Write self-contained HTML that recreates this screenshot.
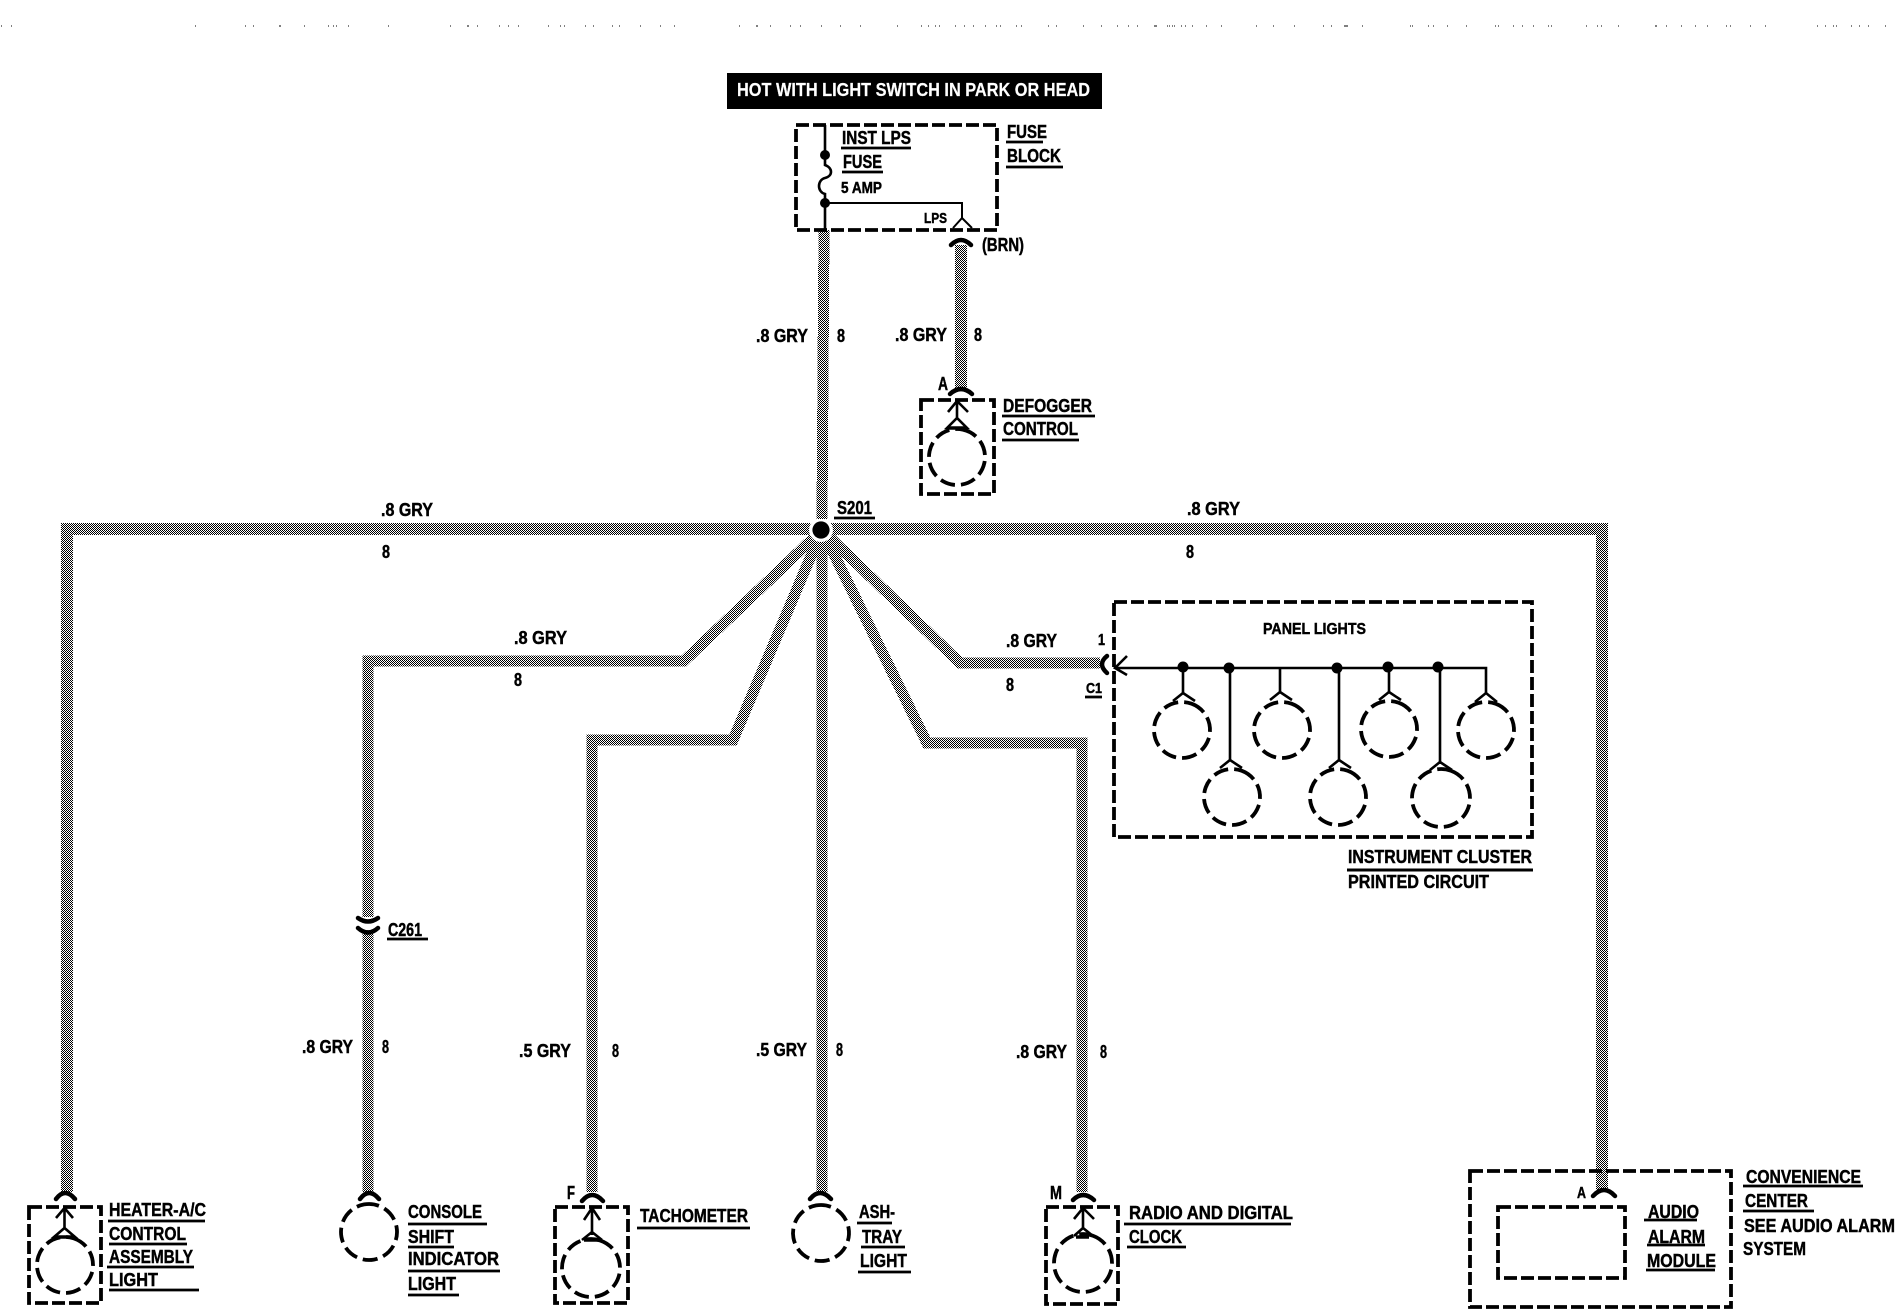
<!DOCTYPE html>
<html><head><meta charset="utf-8"><title>Instrument panel lights wiring diagram</title>
<style>
html,body{margin:0;padding:0;background:#fff}
svg{display:block}
text{font:700 18px "Liberation Sans",sans-serif;fill:#000;stroke:#000;stroke-width:.45}
.s15{font-size:15px}.s16{font-size:16px}
.w{fill:none;stroke:url(#d);stroke-linejoin:miter}
.b{fill:none;stroke:#000;stroke-width:3.8;stroke-dasharray:13 4}
.c{fill:none;stroke:#000;stroke-width:3.8;stroke-dasharray:15 6}
.l{fill:none;stroke:#000;stroke-width:2}
.m{fill:none;stroke:#000;stroke-width:2.6}
.k{fill:none;stroke:#000;stroke-width:4.5;stroke-linecap:round}
.u{fill:none;stroke:#000;stroke-width:2.8}
</style></head><body>
<svg width="1896" height="1312" viewBox="0 0 1896 1312" xmlns="http://www.w3.org/2000/svg">
<defs><pattern id="d" width="2" height="2" patternUnits="userSpaceOnUse"><rect width="2" height="2" fill="#fff"/><rect width="1" height="1" fill="#000"/><rect x="1" y="1" width="1" height="1" fill="#000"/></pattern></defs>
<rect width="1896" height="1312" fill="#fff"/>

<!-- top specks -->
<path stroke="#000" stroke-width="1" fill="none" d="M1 26h1M11 26h1M195 26h1M245 26h1M253 26h1M279 26h2M304 26h1M328 26h1M333 26h1M336 26h1M348 26h1M388 26h1M450 26h1M467 26h2M477 26h1M499 26h1M508 26h1M518 26h1M548 26h1M560 26h1M564 26h1M585 26h1M593 26h1M612 26h1M619 26h1M640 26h1M660 26h1M674 26h1M739 26h1M756 26h2M770 26h1M790 26h1M800 26h1M821 26h1M840 26h1M860 26h1M897 26h1M921 26h1M928 26h1M935 26h1M939 26h1M955 26h1M964 26h1M973 26h1M985 26h1M996 26h1M1000 26h1M1016 26h1M1021 26h1M1048 26h1M1056 26h1M1083 26h1M1101 26h1M1117 26h1M1128 26h1M1137 26h1M1154 26h3M1167 26h1M1169 26h1M1172 26h1M1174 26h1M1181 26h1M1185 26h1M1192 26h1M1206 26h1M1221 26h1M1256 26h1M1273 26h1M1294 26h1M1323 26h1M1331 26h1M1344 26h4M1362 26h1M1410 26h1M1412 26h1M1428 26h1M1433 26h1M1447 26h1M1466 26h1M1495 26h1M1498 26h1M1513 26h1M1522 26h1M1533 26h1M1548 26h1M1551 26h1M1586 26h1M1597 26h1M1601 26h1M1618 26h1M1655 26h2M1666 26h1M1681 26h1M1695 26h1M1707 26h1M1726 26h1M1730 26h1M1750 26h1M1765 26h1M1817 26h1M1825 26h1M1833 26h1M1836 26h1M1851 26h1M1859 26h1M1868 26h1M1885 26h1"/>

<!-- header -->
<rect x="727" y="73" width="375" height="36" fill="#000"/>
<text x="737" y="96" textLength="353" lengthAdjust="spacingAndGlyphs" style="fill:#fff;stroke:#fff;stroke-width:.2">HOT WITH LIGHT SWITCH IN PARK OR HEAD</text>

<!-- wires -->
<g shape-rendering="crispEdges">
<path class="w" stroke-width="11" d="M824 230L822 519"/>
<path class="w" stroke-width="12" d="M961 245V388"/>
<path class="w" stroke-width="12" d="M822 529H67V1192"/>
<path class="w" stroke-width="12" d="M822 529H1602V1190"/>
<path class="w" stroke-width="11" d="M822 530L684 661H368V917M368 934V1192"/>
<path class="w" stroke-width="11" d="M822 530L733 740H592V1192"/>
<path class="w" stroke-width="11" d="M822 530V1192"/>
<path class="w" stroke-width="11" d="M822 530L927 743H1082V1192"/>
<path class="w" stroke-width="11" d="M822 530L960 663H1100"/>
</g>
<circle cx="821" cy="530" r="12" fill="#fff"/>
<rect x="817" y="505" width="10" height="14" fill="url(#d)" shape-rendering="crispEdges"/>
<circle cx="821" cy="530" r="8.6" fill="#000"/>

<!-- fuse block -->
<rect class="b" x="796" y="125" width="201" height="105"/>
<path class="m" d="M825 125V155M825 157V165C833 168 833 176 825 178C817 180 817 192 825 194V230"/>
<path class="l" d="M825 203H962V218L953 228M962 218L972 228"/>
<circle cx="825" cy="155" r="5" fill="#000"/><circle cx="825" cy="203" r="5" fill="#000"/>
<text x="842" y="144" textLength="69" lengthAdjust="spacingAndGlyphs">INST LPS</text><path class="u" d="M841 148H911"/>
<text x="843" y="168" textLength="39" lengthAdjust="spacingAndGlyphs">FUSE</text><path class="u" d="M842 172H883"/>
<text class="s16" x="841" y="193" textLength="41" lengthAdjust="spacingAndGlyphs">5 AMP</text>
<text class="s15" x="924" y="223" textLength="23" lengthAdjust="spacingAndGlyphs">LPS</text>
<text x="1007" y="138" textLength="40" lengthAdjust="spacingAndGlyphs">FUSE</text><path class="u" d="M1006 142H1043"/>
<text x="1007" y="162" textLength="54" lengthAdjust="spacingAndGlyphs">BLOCK</text><path class="u" d="M1006 167H1063"/>
<text x="982" y="251" textLength="42" lengthAdjust="spacingAndGlyphs">(BRN)</text>
<path class="k" d="M951 245Q961 235 971 245"/>

<text x="756" y="342" textLength="52" lengthAdjust="spacingAndGlyphs">.8 GRY</text>
<text x="837" y="342" textLength="8" lengthAdjust="spacingAndGlyphs">8</text>
<text x="895" y="341" textLength="52" lengthAdjust="spacingAndGlyphs">.8 GRY</text>
<text x="974" y="341" textLength="8" lengthAdjust="spacingAndGlyphs">8</text>

<!-- defogger -->
<text x="938" y="390" textLength="10" lengthAdjust="spacingAndGlyphs">A</text>
<path class="k" d="M950 394Q961 384 972 394"/>
<rect class="b" x="921" y="400" width="73" height="94"/>
<path class="m" d="M957 400V418M948 412L957 401L968 412M947 428L957 418L967 428Z"/>
<path d="M947 428H967" stroke="#000" stroke-width="3.5"/>
<circle class="c" cx="957" cy="457" r="28" transform="rotate(-78 957 457)"/>
<text x="1003" y="412" textLength="89" lengthAdjust="spacingAndGlyphs">DEFOGGER</text><path class="u" d="M1002 416H1095"/>
<text x="1003" y="435" textLength="75" lengthAdjust="spacingAndGlyphs">CONTROL</text><path class="u" d="M1002 440H1079"/>

<!-- S201 and horizontal labels -->
<text x="837" y="514" textLength="35" lengthAdjust="spacingAndGlyphs">S201</text><path class="u" d="M834 518H875"/>
<text x="381" y="516" textLength="52" lengthAdjust="spacingAndGlyphs">.8 GRY</text>
<text x="382" y="558" textLength="8" lengthAdjust="spacingAndGlyphs">8</text>
<text x="1187" y="515" textLength="53" lengthAdjust="spacingAndGlyphs">.8 GRY</text>
<text x="1186" y="558" textLength="8" lengthAdjust="spacingAndGlyphs">8</text>
<text x="514" y="644" textLength="53" lengthAdjust="spacingAndGlyphs">.8 GRY</text>
<text x="514" y="686" textLength="8" lengthAdjust="spacingAndGlyphs">8</text>
<text x="1006" y="647" textLength="51" lengthAdjust="spacingAndGlyphs">.8 GRY</text>
<text x="1006" y="691" textLength="8" lengthAdjust="spacingAndGlyphs">8</text>

<!-- panel -->
<rect class="b" x="1114" y="602" width="418" height="235"/>
<text class="s16" x="1263" y="634" textLength="103" lengthAdjust="spacingAndGlyphs">PANEL  LIGHTS</text>
<text class="s16" x="1098" y="645" textLength="7" lengthAdjust="spacingAndGlyphs">1</text>
<path class="k" d="M1107 656Q1097 664 1107 673"/>
<text class="s15" x="1086" y="693" textLength="16" lengthAdjust="spacingAndGlyphs">C1</text><path class="u" d="M1085 697H1102"/>
<path class="m" d="M1116 668H1486V693M1127 656L1115 668L1127 675"/>
<path class="m" d="M1183 668V693M1230 668V760M1280 668V692M1339 668V760M1389 668V692M1440 668V762"/>
<g fill="#000"><circle cx="1183" cy="667" r="5.5"/><circle cx="1229" cy="668" r="5.5"/><circle cx="1337" cy="668" r="5.5"/><circle cx="1388" cy="667" r="5.5"/><circle cx="1438" cy="667" r="5.5"/></g>
<path class="m" d="M1173 701L1183 693L1195 701M1220 768L1230 760L1242 768M1270 700L1280 692L1292 700M1329 768L1339 760L1351 768M1379 700L1389 692L1401 700M1430 770L1440 762L1452 770M1475 702L1486 693L1497 702"/>
<circle class="c" cx="1182" cy="730" r="28" transform="rotate(-70 1182 730)"/>
<circle class="c" cx="1232" cy="797" r="28" transform="rotate(-70 1232 797)"/>
<circle class="c" cx="1282" cy="730" r="28" transform="rotate(-70 1282 730)"/>
<circle class="c" cx="1338" cy="797" r="28" transform="rotate(-70 1338 797)"/>
<circle class="c" cx="1389" cy="729" r="28" transform="rotate(-70 1389 729)"/>
<circle class="c" cx="1441" cy="798" r="29" transform="rotate(-70 1441 798)"/>
<circle class="c" cx="1486" cy="730" r="28" transform="rotate(-70 1486 730)"/>
<text x="1348" y="863" textLength="184" lengthAdjust="spacingAndGlyphs">INSTRUMENT CLUSTER</text>
<path d="M1347 870H1533" stroke="#000" stroke-width="3"/>
<text x="1348" y="888" textLength="141" lengthAdjust="spacingAndGlyphs">PRINTED CIRCUIT</text>

<!-- C261 -->
<path class="k" d="M358 918Q368 925 378 918M358 928Q368 937 378 928"/>
<text x="388" y="936" textLength="34" lengthAdjust="spacingAndGlyphs">C261</text><path class="u" d="M387 939H428"/>

<!-- vertical labels -->
<text x="302" y="1053" textLength="51" lengthAdjust="spacingAndGlyphs">.8 GRY</text>
<text x="382" y="1053" textLength="7" lengthAdjust="spacingAndGlyphs">8</text>
<text x="519" y="1057" textLength="52" lengthAdjust="spacingAndGlyphs">.5 GRY</text>
<text x="612" y="1057" textLength="7" lengthAdjust="spacingAndGlyphs">8</text>
<text x="756" y="1056" textLength="51" lengthAdjust="spacingAndGlyphs">.5 GRY</text>
<text x="836" y="1056" textLength="7" lengthAdjust="spacingAndGlyphs">8</text>
<text x="1016" y="1058" textLength="51" lengthAdjust="spacingAndGlyphs">.8 GRY</text>
<text x="1100" y="1058" textLength="7" lengthAdjust="spacingAndGlyphs">8</text>

<!-- heater -->
<path class="k" d="M56 1199Q65 1187 75 1199"/>
<rect class="b" x="29" y="1207" width="72" height="96"/>
<path class="m" d="M64.5 1207V1228M56 1218L64.5 1208L73 1218M54 1237L64.5 1228L75 1237Z"/>
<path d="M54 1237H75" stroke="#000" stroke-width="3.5"/>
<circle class="c" cx="65" cy="1265" r="28" transform="rotate(-72 65 1265)"/>
<text x="109" y="1216" textLength="97" lengthAdjust="spacingAndGlyphs">HEATER-A/C</text><path class="u" d="M108 1221H205"/>
<text x="109" y="1240" textLength="77" lengthAdjust="spacingAndGlyphs">CONTROL</text><path class="u" d="M109 1244H187"/>
<text x="109" y="1263" textLength="84" lengthAdjust="spacingAndGlyphs">ASSEMBLY</text><path class="u" d="M107 1267H194"/>
<text x="109" y="1286" textLength="49" lengthAdjust="spacingAndGlyphs">LIGHT</text><path class="u" d="M109 1290H199"/>

<!-- console -->
<path class="k" d="M360 1199Q369 1187 379 1199"/>
<circle class="c" cx="369" cy="1232" r="28" transform="rotate(-100 369 1232)"/>
<text x="408" y="1218" textLength="74" lengthAdjust="spacingAndGlyphs">CONSOLE</text><path class="u" d="M408 1224H487"/>
<text x="408" y="1243" textLength="46" lengthAdjust="spacingAndGlyphs">SHIFT</text><path class="u" d="M408 1247H454"/>
<text x="408" y="1265" textLength="91" lengthAdjust="spacingAndGlyphs">INDICATOR</text><path class="u" d="M408 1271H500"/>
<text x="408" y="1290" textLength="48" lengthAdjust="spacingAndGlyphs">LIGHT</text><path class="u" d="M408 1295H459"/>

<!-- tach -->
<text x="567" y="1199" textLength="8" lengthAdjust="spacingAndGlyphs">F</text>
<path class="k" d="M582 1201Q592 1189 603 1201"/>
<rect class="b" x="555" y="1207" width="73" height="96"/>
<path class="m" d="M592 1207V1235M584 1220L592 1208L600 1220M582 1240L592 1232L602 1240"/>
<path d="M584 1240H600" stroke="#000" stroke-width="3.5"/>
<circle class="c" cx="591" cy="1268" r="29" transform="rotate(-72 591 1268)"/>
<text x="640" y="1222" textLength="108" lengthAdjust="spacingAndGlyphs">TACHOMETER</text><path class="u" d="M637 1228H750"/>

<!-- ashtray -->
<path class="k" d="M810 1199Q820 1187 831 1199"/>
<circle class="c" cx="821" cy="1233" r="28" transform="rotate(-100 821 1233)"/>
<text x="859" y="1218" textLength="36" lengthAdjust="spacingAndGlyphs">ASH-</text><path class="u" d="M857 1223H892"/>
<text x="862" y="1243" textLength="40" lengthAdjust="spacingAndGlyphs">TRAY</text><path class="u" d="M861 1247H905"/>
<text x="860" y="1267" textLength="47" lengthAdjust="spacingAndGlyphs">LIGHT</text><path class="u" d="M858 1272H911"/>

<!-- radio -->
<text x="1050" y="1199" textLength="12" lengthAdjust="spacingAndGlyphs">M</text>
<path class="k" d="M1073 1200Q1083 1190 1094 1200"/>
<rect class="b" x="1046" y="1207" width="72" height="97"/>
<path class="m" d="M1083 1207V1228M1074 1219L1083 1208L1094 1219M1074 1236L1083 1228L1093 1236"/>
<path d="M1076 1237H1089" stroke="#000" stroke-width="3.5"/>
<circle class="c" cx="1083" cy="1263" r="29" transform="rotate(-70 1083 1263)"/>
<text x="1129" y="1219" textLength="164" lengthAdjust="spacingAndGlyphs">RADIO AND DIGITAL</text><path class="u" d="M1124 1224H1291"/>
<text x="1129" y="1243" textLength="53" lengthAdjust="spacingAndGlyphs">CLOCK</text><path class="u" d="M1127 1247H1186"/>

<!-- convenience center -->
<rect class="b" x="1470" y="1171" width="261" height="136"/>
<path class="k" d="M1593 1196Q1604 1184 1615 1196"/>
<text x="1577" y="1198" textLength="9" lengthAdjust="spacingAndGlyphs" class="s16">A</text>
<rect class="b" x="1498" y="1207" width="127" height="71"/>
<text x="1648" y="1218" textLength="51" lengthAdjust="spacingAndGlyphs">AUDIO</text><path class="u" d="M1644 1220H1697"/>
<text x="1648" y="1243" textLength="57" lengthAdjust="spacingAndGlyphs">ALARM</text><path class="u" d="M1647 1245H1705"/>
<text x="1647" y="1267" textLength="69" lengthAdjust="spacingAndGlyphs">MODULE</text><path class="u" d="M1646 1270H1715"/>
<text x="1746" y="1183" textLength="115" lengthAdjust="spacingAndGlyphs">CONVENIENCE</text><path class="u" d="M1743 1186H1863"/>
<text x="1745" y="1207" textLength="63" lengthAdjust="spacingAndGlyphs">CENTER</text><path class="u" d="M1743 1211H1814"/>
<text x="1744" y="1232" textLength="151" lengthAdjust="spacingAndGlyphs">SEE AUDIO ALARM</text>
<text x="1743" y="1255" textLength="63" lengthAdjust="spacingAndGlyphs">SYSTEM</text>
</svg>
</body></html>
